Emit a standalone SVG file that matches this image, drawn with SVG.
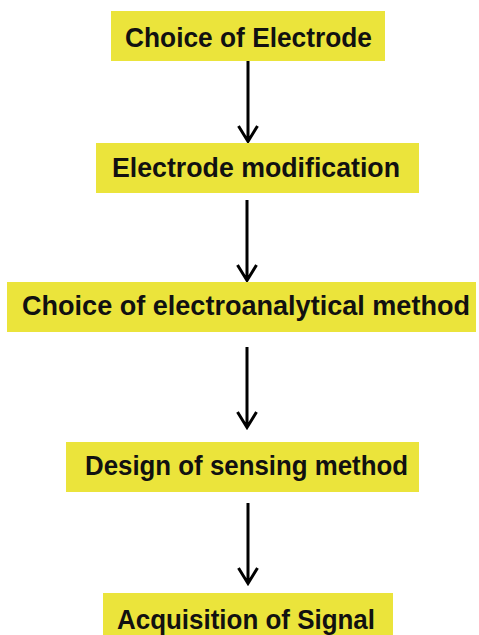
<svg xmlns="http://www.w3.org/2000/svg" width="479" height="635" viewBox="0 0 479 635">
<style>
.box{fill:#EBE43B}
.lbl{font-family:"Liberation Sans",Arial,sans-serif;font-weight:bold;font-size:27.5px;fill:#111}
.con{stroke:#000;stroke-width:3;fill:none}
</style>
<rect width="479" height="635" fill="#fff"/>
<g id="connectors">
<path class="con" d="M248 61V141M238.5 126L248 141.5L257.5 126"/>
<path class="con" d="M247 200V280M237.5 265L247 280.5L256.5 265"/>
<path class="con" d="M247 347V427M237.5 412L247 427.5L256.5 412"/>
<path class="con" d="M248 503V583M238.5 568L248 583.5L257.5 568"/>
</g>
<g id="n1"><rect class="box" x="111" y="11" width="274" height="50"/><text class="lbl" x="125" y="47" textLength="247" lengthAdjust="spacingAndGlyphs">Choice of Electrode</text></g>
<g id="n2"><rect class="box" x="96" y="143" width="323" height="50"/><text class="lbl" x="112" y="177" textLength="288" lengthAdjust="spacingAndGlyphs">Electrode modification</text></g>
<g id="n3"><rect class="box" x="7" y="282" width="469" height="50"/><text class="lbl" x="22" y="315" textLength="448" lengthAdjust="spacingAndGlyphs">Choice of electroanalytical method</text></g>
<g id="n4"><rect class="box" x="66" y="442" width="353" height="50"/><text class="lbl" x="85" y="475" textLength="323" lengthAdjust="spacingAndGlyphs">Design of sensing method</text></g>
<g id="n5"><rect class="box" x="103" y="593" width="290" height="50"/><text class="lbl" x="117" y="629" textLength="258" lengthAdjust="spacingAndGlyphs">Acquisition of Signal</text></g>
</svg>
